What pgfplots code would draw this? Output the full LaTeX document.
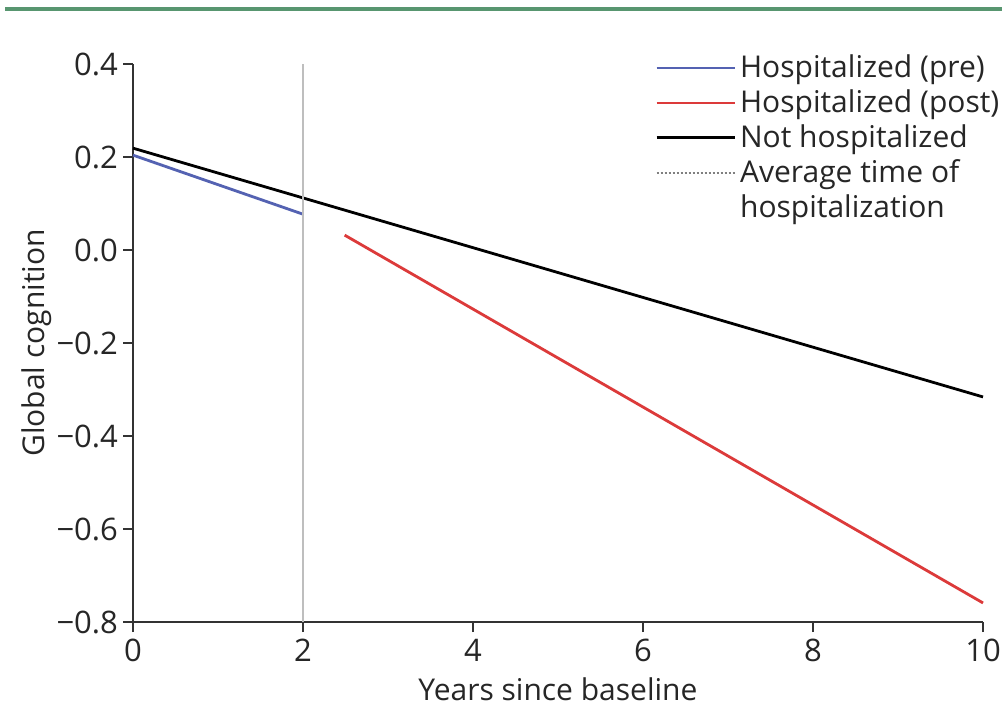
\documentclass[border=0pt]{standalone}
\usepackage{fontspec}
\setmainfont{Open Sans}
\usepackage{pgfplots}
\pgfplotsset{compat=1.18}

\definecolor{preblue}{RGB}{84,98,178}
\definecolor{postred}{RGB}{220,58,58}
\definecolor{rulegreen}{RGB}{88,150,112}
\definecolor{markgray}{RGB}{190,190,190}

\begin{document}
\begin{tikzpicture}
  % canvas: 501pt x 354pt
  \useasboundingbox (0pt,0pt) rectangle (501pt,354pt);
  \fill[white] (0pt,0pt) rectangle (501pt,354pt);
  \draw[rulegreen, line width=1.6pt] (2.5pt,349.5pt) -- (501pt,349.5pt);
  \begin{axis}[
    at={(66.5pt,43pt)}, anchor=south west,
    scale only axis, width=425pt, height=279pt,
    xmin=0, xmax=10, ymin=-0.8, ymax=0.4,
    axis lines=left,
    axis line style={-, line width=0.9pt, black!80},
    tick style={line width=0.9pt, black!80},
    tick align=outside, major tick length=5pt,
    xtick={0,2,4,6,8,10},
    ytick={-0.8,-0.6,-0.4,-0.2,0,0.2,0.4},
    yticklabels={−0.8,−0.6,−0.4,−0.2,0.0,0.2,0.4},
    /pgf/number format/assume math mode=true,
    ticklabel style={font=\fontsize{15.5}{17}\selectfont, text=black!85},
    yticklabel style={xshift=1pt},
    xlabel={Years since baseline},
    ylabel={Global cognition},
    label style={font=\fontsize{15}{17}\selectfont, text=black!85},
    xlabel style={yshift=-1pt},
    ylabel style={yshift=-4.5pt},
    clip=false,
    legend style={
      at={(0.614,1.024)}, anchor=north west,
      draw=none, fill=none, inner sep=0pt,
      font=\fontsize{15}{17.5}\selectfont,
      cells={anchor=west, align=left, text=black!85},
      row sep=0.6pt,
      /tikz/every even column/.style={column sep=2.5pt},
    },
    legend cell align=left,
    legend image code/.code={\draw[#1] (0pt,0pt) -- (39pt,0pt);},
  ]
    \addplot[preblue, line width=1.4pt] coordinates {(0,0.204) (2,0.077)};
    \addlegendentry{Hospitalized (pre)}
    \addplot[postred, line width=1.4pt] coordinates {(2.49,0.032) (10,-0.759)};
    \addlegendentry{Hospitalized (post)}
    \addplot[black, line width=1.4pt] coordinates {(0,0.219) (10,-0.316)};
    \addlegendentry{Not hospitalized}
    \addplot[markgray, line width=0.6pt,
      legend image code/.code={\draw[gray, line width=0.9pt, dash pattern=on 0.9pt off 1.1pt] (0pt,0pt) -- (39pt,0pt);}]
      coordinates {(2,-0.8) (2,0.4)};
    \addlegendentry{Average time of}
    \addlegendimage{empty legend}
    \addlegendentry{hospitalization}
  \end{axis}
\end{tikzpicture}
\end{document}
